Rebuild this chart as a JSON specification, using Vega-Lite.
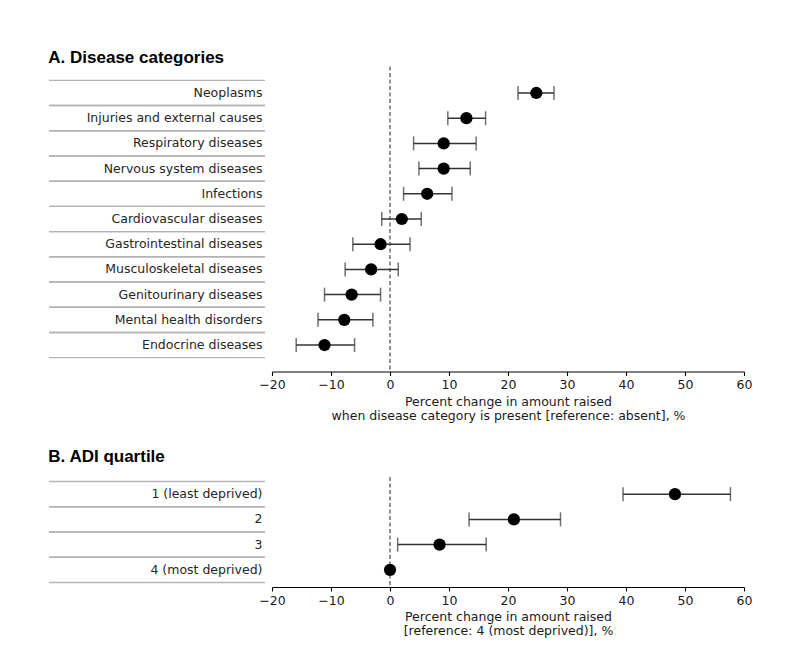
{
  "$schema": "https://vega.github.io/schema/vega-lite/v6.json",
  "padding": {"left": 48, "top": 48.5, "right": 10, "bottom": 10},
  "background": "white",
  "config": {
    "view": {"stroke": null},
    "font": "DejaVu Sans",
    "title": {"font": "Liberation Sans", "fontWeight": "bold", "fontSize": 17, "anchor": "start", "color": "#000", "offset": 4},
    "axis": {"grid": false, "labelFlush": false, "domainColor": "#000", "domainWidth": 1.1, "tickColor": "#000", "tickWidth": 1.1, "tickSize": 4, "labelFont": "DejaVu Sans", "titleFont": "DejaVu Sans", "labelFontSize": 12.5, "titleFontSize": 12.5, "titleFontWeight": "normal", "labelColor": "#1a1a1a", "titleColor": "#1a1a1a", "labelPadding": 3, "titlePadding": 4, "titleLineHeight": 14}
  },
  "datasets": {
    "A": [
      {"cat": "Neoplasms", "est": 24.8, "lo": 21.7, "hi": 27.8},
      {"cat": "Injuries and external causes", "est": 12.95, "lo": 9.8, "hi": 16.2},
      {"cat": "Respiratory diseases", "est": 9.1, "lo": 4.0, "hi": 14.6},
      {"cat": "Nervous system diseases", "est": 9.1, "lo": 4.9, "hi": 13.6},
      {"cat": "Infections", "est": 6.3, "lo": 2.3, "hi": 10.5},
      {"cat": "Cardiovascular diseases", "est": 2.0, "lo": -1.4, "hi": 5.3},
      {"cat": "Gastrointestinal diseases", "est": -1.6, "lo": -6.3, "hi": 3.4},
      {"cat": "Musculoskeletal diseases", "est": -3.2, "lo": -7.6, "hi": 1.4},
      {"cat": "Genitourinary diseases", "est": -6.5, "lo": -11.1, "hi": -1.6},
      {"cat": "Mental health disorders", "est": -7.75, "lo": -12.2, "hi": -2.9},
      {"cat": "Endocrine diseases", "est": -11.1, "lo": -15.9, "hi": -6.0}
    ],
    "B": [
      {"cat": "1 (least deprived)", "est": 48.3, "lo": 39.5, "hi": 57.7},
      {"cat": "2", "est": 21.0, "lo": 13.4, "hi": 28.9},
      {"cat": "3", "est": 8.4, "lo": 1.3, "hi": 16.3},
      {"cat": "4 (most deprived)", "est": 0, "lo": null, "hi": null}
    ]
  },
  "vconcat": [
    {
      "title": {"text": "A. Disease categories", "offset": -1.5},
      "spacing": 7,
      "bounds": "flush",
      "hconcat": [
        {
          "width": 216, "height": 305,
          "data": {"name": "A"},
          "layer": [
            {"mark": {"type": "rule", "color": "#b3b3b3", "strokeWidth": 1.4},
             "encoding": {"y": {"field": "cat", "type": "nominal", "sort": null, "axis": null, "bandPosition": 0, "scale": {"paddingInner": 0, "paddingOuter": 0.55}}}},
            {"mark": {"type": "rule", "color": "#b3b3b3", "strokeWidth": 1.4},
             "encoding": {"y": {"field": "cat", "type": "nominal", "sort": null, "axis": null, "bandPosition": 1, "scale": {"paddingInner": 0, "paddingOuter": 0.55}}}},
            {"mark": {"type": "text", "align": "right", "baseline": "middle", "dx": -2.5, "fontSize": 12.5, "color": "#262626", "font": "DejaVu Sans"},
             "encoding": {
               "text": {"field": "cat"},
               "x": {"datum": 1, "type": "quantitative", "scale": {"domain": [0, 1]}, "axis": null},
               "y": {"field": "cat", "type": "nominal", "sort": null, "axis": null, "scale": {"paddingInner": 0, "paddingOuter": 0.55}}}}
          ]
        },
        {
          "width": 472, "height": 305,
          "data": {"name": "A"},
          "encoding": {"y": {"field": "cat", "type": "nominal", "sort": null, "axis": null, "scale": {"paddingInner": 0, "paddingOuter": 0.55}}},
          "layer": [
            {"data": {"values": [{}]},
             "mark": {"type": "rule", "strokeDash": [4, 2.5], "color": "#555", "strokeWidth": 1.3},
             "encoding": {
               "y": null,
               "x": {"datum": 0, "type": "quantitative", "scale": {"domain": [-20, 60], "nice": false, "zero": false},
                     "axis": {"values": [-20, -10, 0, 10, 20, 30, 40, 50, 60], "title": ["Percent change in amount raised", "when disease category is present [reference: absent], %"]}}}},
            {"mark": {"type": "rule", "color": "#333333", "strokeWidth": 1.5},
             "encoding": {"x": {"field": "lo", "type": "quantitative"}, "x2": {"field": "hi"}}},
            {"mark": {"type": "tick", "orient": "vertical", "size": 14, "thickness": 1.5, "color": "#333333"},
             "encoding": {"x": {"field": "lo", "type": "quantitative"}}},
            {"mark": {"type": "tick", "orient": "vertical", "size": 14, "thickness": 1.5, "color": "#333333"},
             "encoding": {"x": {"field": "hi", "type": "quantitative"}}},
            {"mark": {"type": "circle", "size": 150, "color": "#000", "opacity": 1},
             "encoding": {"x": {"field": "est", "type": "quantitative"}}}
          ]
        }
      ]
    },
    {
      "title": {"text": "B. ADI quartile", "offset": 10},
      "spacing": 7,
      "bounds": "flush",
      "hconcat": [
        {
          "width": 216, "height": 110,
          "data": {"name": "B"},
          "layer": [
            {"mark": {"type": "rule", "color": "#b3b3b3", "strokeWidth": 1.4},
             "encoding": {"y": {"field": "cat", "type": "nominal", "sort": null, "axis": null, "bandPosition": 0, "scale": {"paddingInner": 0, "paddingOuter": 0.18}}}},
            {"mark": {"type": "rule", "color": "#b3b3b3", "strokeWidth": 1.4},
             "encoding": {"y": {"field": "cat", "type": "nominal", "sort": null, "axis": null, "bandPosition": 1, "scale": {"paddingInner": 0, "paddingOuter": 0.18}}}},
            {"mark": {"type": "text", "align": "right", "baseline": "middle", "dx": -2.5, "fontSize": 12.5, "color": "#262626", "font": "DejaVu Sans"},
             "encoding": {
               "text": {"field": "cat"},
               "x": {"datum": 1, "type": "quantitative", "scale": {"domain": [0, 1]}, "axis": null},
               "y": {"field": "cat", "type": "nominal", "sort": null, "axis": null, "scale": {"paddingInner": 0, "paddingOuter": 0.18}}}}
          ]
        },
        {
          "width": 472, "height": 110,
          "data": {"name": "B"},
          "encoding": {"y": {"field": "cat", "type": "nominal", "sort": null, "axis": null, "scale": {"paddingInner": 0, "paddingOuter": 0.18}}},
          "layer": [
            {"data": {"values": [{}]},
             "mark": {"type": "rule", "strokeDash": [4, 2.5], "color": "#555", "strokeWidth": 1.3},
             "encoding": {
               "y": null,
               "x": {"datum": 0, "type": "quantitative", "scale": {"domain": [-20, 60], "nice": false, "zero": false},
                     "axis": {"values": [-20, -10, 0, 10, 20, 30, 40, 50, 60], "title": ["Percent change in amount raised", "[reference: 4 (most deprived)], %"]}}}},
            {"mark": {"type": "rule", "color": "#333333", "strokeWidth": 1.5},
             "encoding": {"x": {"field": "lo", "type": "quantitative"}, "x2": {"field": "hi"}}},
            {"mark": {"type": "tick", "orient": "vertical", "size": 14, "thickness": 1.5, "color": "#333333"},
             "encoding": {"x": {"field": "lo", "type": "quantitative"}}},
            {"mark": {"type": "tick", "orient": "vertical", "size": 14, "thickness": 1.5, "color": "#333333"},
             "encoding": {"x": {"field": "hi", "type": "quantitative"}}},
            {"mark": {"type": "circle", "size": 150, "color": "#000", "opacity": 1},
             "encoding": {"x": {"field": "est", "type": "quantitative"}}}
          ]
        }
      ]
    }
  ],
  "spacing": 26.5
}
